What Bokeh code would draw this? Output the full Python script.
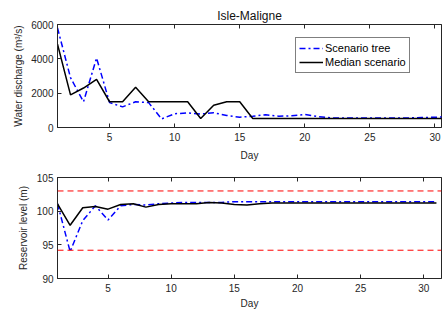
from bokeh.plotting import figure
from bokeh.layouts import column
from bokeh.models import Range1d, LinearAxis, FixedTicker, Legend, LegendItem, Span
from bokeh.embed import file_html
from bokeh.resources import INLINE

days = list(range(1, 32))
tree_discharge = [5800, 2900, 1500, 4050, 1450, 1200, 1500, 1450, 500, 800,
                  850, 780, 860, 700, 600, 660, 740, 660, 680, 760,
                  640, 560, 550, 550, 550, 550, 550, 560, 580, 600, 620]
median_discharge = [4850, 1900, 2300, 2800, 1500, 1500, 2350, 1500, 1500, 1500,
                    1500, 520, 1300, 1500, 1500, 520, 520, 520, 520, 520,
                    520, 520, 520, 520, 520, 520, 520, 520, 520, 520, 520]
tree_level = [101.1, 94.0, 98.6, 100.8, 98.7, 100.8, 101.0, 100.9, 101.1, 101.2,
              101.3, 101.3, 101.3, 101.3, 101.4, 101.4, 101.4, 101.4, 101.4, 101.4,
              101.4, 101.4, 101.4, 101.4, 101.4, 101.4, 101.4, 101.4, 101.4, 101.4, 101.4]
median_level = [101.1, 97.9, 100.5, 100.7, 100.3, 101.0, 101.1, 100.6, 101.0, 101.1,
                101.1, 101.1, 101.3, 101.2, 101.0, 100.9, 101.1, 101.2, 101.2, 101.2,
                101.2, 101.2, 101.2, 101.2, 101.2, 101.2, 101.2, 101.2, 101.2, 101.2, 101.2]
level_max = 103.0
level_min = 94.2
x_ticks = [5, 10, 15, 20, 25, 30]
q_ticks = [0, 2000, 4000, 6000]
level_ticks = [90, 95, 100, 105]

FONT = "Liberation Sans"
AX = "#262626"
BLUE = "#0000ff"


def style(p, yticks, xlabel, ylabel):
    xa = p.below[0]
    ya = p.left[0]
    xa.ticker = FixedTicker(ticks=x_ticks)
    ya.ticker = FixedTicker(ticks=yticks)
    xa.axis_label = xlabel
    ya.axis_label = ylabel
    for ax in (xa, ya):
        ax.major_tick_in = 4
        ax.major_tick_out = 0
        ax.minor_tick_in = 0
        ax.minor_tick_out = 0
        ax.axis_line_color = AX
        ax.major_tick_line_color = AX
        ax.major_label_text_font = FONT
        ax.major_label_text_font_size = "10px"
        ax.major_label_text_color = AX
        ax.axis_label_text_font = FONT
        ax.axis_label_text_font_size = "10px"
        ax.axis_label_text_font_style = "normal"
        ax.axis_label_text_color = AX
    top = LinearAxis(ticker=FixedTicker(ticks=x_ticks), major_tick_in=4, major_tick_out=0,
                     minor_tick_in=0, minor_tick_out=0, major_label_text_font_size="1px",
                     major_label_text_color=None, major_label_standoff=0,
                     axis_line_color=AX, major_tick_line_color=AX)
    p.add_layout(top, "above")
    p.xgrid.visible = False
    p.ygrid.visible = False
    p.outline_line_color = AX
    p.background_fill_color = "white"
    p.border_fill_color = "white"
    return xa, ya


# ---- top: water discharge ----
p1 = figure(width=442, height=164, output_backend="svg", toolbar_location=None,
            x_range=Range1d(1, 30.5), y_range=Range1d(0, 6000),
            min_border_left=57, min_border_right=1, min_border_top=24, min_border_bottom=37,
            title="Isle-Maligne")
p1.title.align = "center"
p1.title.text_font = FONT
p1.title.text_font_size = "12px"
p1.title.text_font_style = "normal"
p1.title.text_color = "#111111"
p1.title.standoff = 3
xa1, ya1 = style(p1, q_ticks, "Day", "Water discharge (m³/s)")
xa1.major_label_standoff = 5
xa1.axis_label_standoff = 6
ya1.major_label_standoff = 4
ya1.axis_label_standoff = 4

r_tree = p1.line(days, tree_discharge, line_color=BLUE, line_width=1.5, line_dash="6 3 2 3")
r_med = p1.line(days, median_discharge, line_color="black", line_width=1.5)
legend = Legend(items=[LegendItem(label="Scenario tree", renderers=[r_tree]),
                       LegendItem(label="Median scenario", renderers=[r_med])],
                location=(238, 54))
legend.label_text_font = FONT
legend.label_text_font_size = "11px"
legend.label_text_color = "black"
legend.border_line_color = "black"
legend.border_line_width = 1
legend.padding = 3
legend.spacing = 0
legend.margin = 0
legend.label_standoff = 2
legend.glyph_width = 24
legend.glyph_height = 14
legend.label_height = 14
legend.label_width = 10
p1.add_layout(legend, "center")

# ---- bottom: reservoir level ----
p2 = figure(width=442, height=152, output_backend="svg", toolbar_location=None,
            x_range=Range1d(1, 31.4), y_range=Range1d(90, 105),
            min_border_left=53, min_border_right=1, min_border_top=13, min_border_bottom=38)
xa2, ya2 = style(p2, level_ticks, "Day", "Reservoir level (m)")
xa2.major_label_standoff = 5
xa2.axis_label_standoff = 3
ya2.major_label_standoff = 4
ya2.axis_label_standoff = 5

p2.add_layout(Span(location=level_max, dimension="width", line_color="red",
                   line_width=1, line_dash="6 4"))
p2.add_layout(Span(location=level_min, dimension="width", line_color="red",
                   line_width=1, line_dash="6 4"))
p2.line(days, tree_level, line_color=BLUE, line_width=1.5, line_dash="6 3 2 3")
p2.line(days, median_level, line_color="black", line_width=1.5)

layout = column(p1, p2, spacing=0)
open("out.html", "w").write(file_html(layout, INLINE))
